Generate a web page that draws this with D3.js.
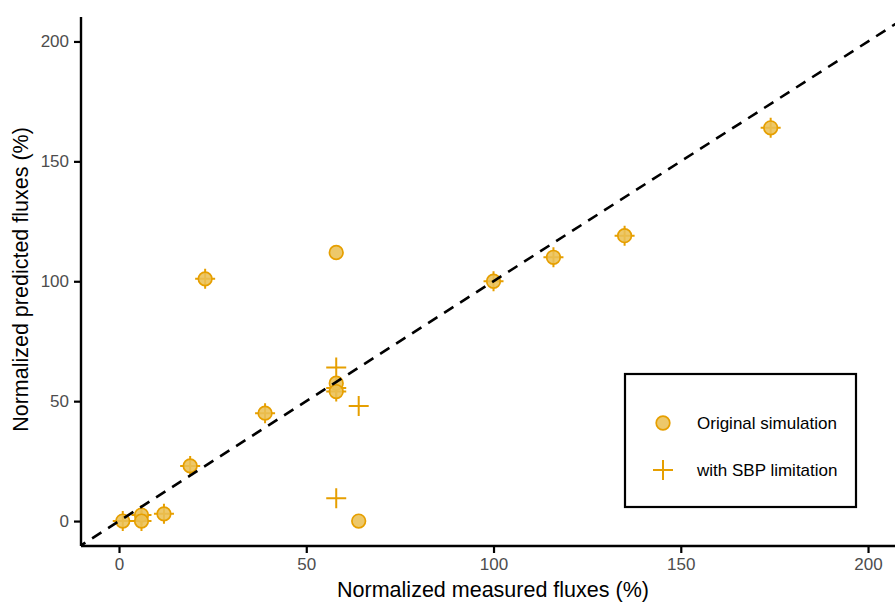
<!DOCTYPE html>
<html>
<head>
<meta charset="utf-8">
<script src="https://cdn.jsdelivr.net/npm/d3@7"></script>
<style>
  body { margin: 0; background: #fff; }
  svg { font-family: "Liberation Sans", Arial, sans-serif; }
</style>
</head>
<body>
<svg width="895" height="603"></svg>
<script>
// original simulation (circles)
var measured_orig = [1, 6, 6, 12, 19, 23, 39, 58, 58, 58, 64, 100, 116, 135, 174]
var predicted_orig = [0, 2.5, 0, 3, 23, 101, 45, 112, 57.5, 54, 0, 100, 110, 119, 164]

// with SBP limitation (crosses)
var measured_sbp = [1, 6, 6, 12, 19, 23, 39, 58, 58, 58, 58, 64, 100, 116, 135, 174]
var predicted_sbp = [0, 2.5, 0, 3, 23, 101, 45, 64, 55.5, 54, 9.5, 48, 100, 110, 119, 164]

var x_ticks = [0, 50, 100, 150, 200]
var y_ticks = [0, 50, 100, 150, 200]
var legend_labels = ['Original simulation', 'with SBP limitation']

var col = '#E69F00'
var fill_col = '#EAC055'

var draw_chart = function() {
  const left = 81, top = 17
  const width = 814, height = 529

  const svg = d3.select('svg')
  const chart = svg.append('g')
    .attr('transform', `translate(${left}, ${top})`)

  const xScale = d3.scaleLinear()
    .domain([-10.15, 207.2])
    .range([0, width])
  const yScale = d3.scaleLinear()
    .domain([-10.4, 210.2])
    .range([height, 0])

  svg.append('clipPath').attr('id', 'panel')
    .append('rect').attr('width', width).attr('height', height)

  var plus = function(sel) {
    sel.append('path')
      .attr('d', 'M-10,0H10M0,-10V10')
      .attr('stroke', col)
      .attr('stroke-width', 2)
      .attr('fill', 'none')
  }

  const sbp = measured_sbp.map((m, i) => ({x: m, y: predicted_sbp[i]}))
  const orig = measured_orig.map((m, i) => ({x: m, y: predicted_orig[i]}))

  chart.selectAll('.sbp')
    .data(sbp)
    .enter()
    .append('g')
    .attr('class', 'sbp')
    .attr('transform', (d) => `translate(${xScale(d.x)}, ${yScale(d.y)})`)
    .call(plus)

  chart.selectAll('.orig')
    .data(orig)
    .enter()
    .append('circle')
    .attr('class', 'orig')
    .attr('cx', (d) => xScale(d.x))
    .attr('cy', (d) => yScale(d.y))
    .attr('r', 6.8)
    .attr('fill', fill_col)
    .attr('fill-opacity', 0.88)
    .attr('stroke', col)
    .attr('stroke-width', 1.7)

  // 1:1 reference line, drawn over the points
  chart.append('line')
    .attr('clip-path', 'url(#panel)')
    .attr('x1', xScale(-20)).attr('y1', yScale(-20))
    .attr('x2', xScale(220)).attr('y2', yScale(220))
    .attr('stroke', '#000')
    .attr('stroke-width', 2.6)
    .attr('stroke-dasharray', '11,8')

  // axes
  chart.append('g')
    .attr('transform', `translate(0, ${height})`)
    .call(d3.axisBottom(xScale).tickValues(x_ticks).tickSize(7).tickPadding(5))
  chart.append('g')
    .call(d3.axisLeft(yScale).tickValues(y_ticks).tickSize(7).tickPadding(5))

  chart.selectAll('.domain').remove()
  chart.append('line')
    .attr('x1', 0).attr('x2', width).attr('y1', height).attr('y2', height)
    .attr('stroke', '#000').attr('stroke-width', 2.4)
  chart.append('line')
    .attr('x1', 0).attr('x2', 0).attr('y1', 0).attr('y2', height)
    .attr('stroke', '#000').attr('stroke-width', 2.4)

  chart.selectAll('.tick line').attr('stroke', '#000').attr('stroke-width', 2.2)
  chart.selectAll('.tick text')
    .attr('fill', '#4D4D4D')
    .style('font-size', '17px')
    .style('font-family', '"Liberation Sans", Arial, sans-serif')

  svg.append('text')
    .attr('x', 493)
    .attr('y', 597)
    .attr('text-anchor', 'middle')
    .style('font-size', '21.5px')
    .text('Normalized measured fluxes (%)')

  svg.append('text')
    .attr('transform', `translate(28, ${top + height / 2 - 2}) rotate(-90)`)
    .attr('text-anchor', 'middle')
    .style('font-size', '21.5px')
    .text('Normalized predicted fluxes (%)')

  // legend
  const legend = svg.append('g')
  legend.append('rect')
    .attr('x', 625).attr('y', 374)
    .attr('width', 231).attr('height', 133)
    .attr('fill', '#fff')
    .attr('stroke', '#000')
    .attr('stroke-width', 2.2)

  legend.append('circle')
    .attr('cx', 663).attr('cy', 423)
    .attr('r', 6.8)
    .attr('fill', fill_col)
    .attr('fill-opacity', 0.88)
    .attr('stroke', col)
    .attr('stroke-width', 1.7)
  legend.append('g')
    .attr('transform', 'translate(663, 470)')
    .call(plus)

  legend.selectAll('.lab')
    .data(legend_labels)
    .enter()
    .append('text')
    .attr('x', 697)
    .attr('y', (d, i) => 423 + i * 47)
    .attr('dy', '0.35em')
    .style('font-size', '17px')
    .text((d) => d)
}

draw_chart()
</script>
</body>
</html>
